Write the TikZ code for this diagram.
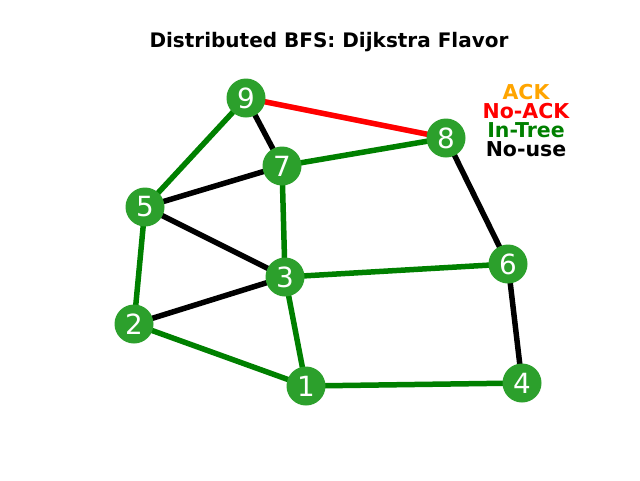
\documentclass[tikz,border=0pt]{standalone}
\usepackage{fontspec}
\setmainfont{DejaVu Sans}
\begin{document}
\begin{tikzpicture}[x=1pt,y=-1pt,
  vertex/.style={circle,fill=nodegreen,draw=none,minimum size=39pt,inner sep=0pt,
    text=white,font=\fontsize{27.8}{30}\selectfont},
  link/.style={line width=5.5pt},
  tree/.style={link,draw=treegreen},
  noack/.style={link,draw=red},
  unused/.style={link,draw=black},
  legend/.style={anchor=base,font=\fontsize{20.5}{22}\bfseries\selectfont,inner sep=0pt}]
\definecolor{nodegreen}{HTML}{2CA02C}
\definecolor{treegreen}{RGB}{0,128,0}
\definecolor{ackorange}{HTML}{FFA500}
\useasboundingbox[fill=white] (0,0) rectangle (640,480);

% title
\node[anchor=base,inner sep=0pt,font=\fontsize{20}{22}\bfseries\selectfont] (title) at (329,47)
  {Distributed BFS: Dijkstra Flavor};

% legend
\node[legend,text=ackorange] (lack) at (526,99) {ACK};
\node[legend,text=red] (lnoack) at (526,118) {No-ACK};
\node[legend,text=treegreen] (ltree) at (526,137) {In-Tree};
\node[legend,text=black] (lnouse) at (526,156) {No-use};

% vertices
\coordinate (p9) at (246,98);
\coordinate (p8) at (446,138);
\coordinate (p7) at (282,166);
\coordinate (p5) at (145,207);
\coordinate (p6) at (508,264);
\coordinate (p3) at (285,277);
\coordinate (p2) at (134,324);
\coordinate (p1) at (306,386);
\coordinate (p4) at (522,383);

% edges
\draw[noack]  (p9) -- (p8);
\draw[unused] (p9) -- (p7);
\draw[tree]   (p9) -- (p5);
\draw[tree]   (p7) -- (p8);
\draw[unused] (p7) -- (p5);
\draw[tree]   (p7) -- (p3);
\draw[unused] (p5) -- (p3);
\draw[tree]   (p5) -- (p2);
\draw[tree]   (p3) -- (p6);
\draw[unused] (p3) -- (p2);
\draw[tree]   (p3) -- (p1);
\draw[tree]   (p2) -- (p1);
\draw[tree]   (p1) -- (p4);
\draw[unused] (p8) -- (p6);
\draw[unused] (p6) -- (p4);

\foreach \n in {1,...,9} \node[vertex] (v\n) at (p\n) {\n};
\end{tikzpicture}
\end{document}
